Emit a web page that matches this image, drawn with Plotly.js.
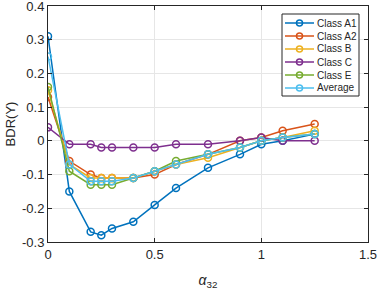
<!DOCTYPE html>
<html>
<head>
<meta charset="utf-8">
<script src="https://cdn.plot.ly/plotly-3.0.1.min.js"></script>
<style>html,body{margin:0;padding:0;background:#fff;}#chart{width:378px;height:291px;}</style>
</head>
<body>
<div id="chart"></div>
<script>
var alpha = [0, 0.1, 0.2, 0.25, 0.3, 0.4, 0.5, 0.6, 0.75, 0.9, 1.0, 1.1, 1.25];
var classA1 = [0.31, -0.15, -0.27, -0.28, -0.26, -0.24, -0.19, -0.14, -0.08, -0.04, -0.01, 0.0, 0.02];
var classA2 = [0.13, -0.06, -0.10, -0.11, -0.11, -0.11, -0.10, -0.07, -0.04, 0.0, 0.01, 0.03, 0.05];
var classB  = [0.15, -0.07, -0.11, -0.11, -0.11, -0.11, -0.09, -0.07, -0.05, -0.02, 0.0, 0.01, 0.03];
var classC  = [0.04, -0.01, -0.01, -0.02, -0.02, -0.02, -0.02, -0.01, -0.01, 0.0, 0.01, 0.0, 0.0];
var classE  = [0.16, -0.09, -0.13, -0.13, -0.13, -0.11, -0.09, -0.06, -0.04, -0.02, 0.0, 0.01, 0.02];
var average = [0.25, -0.07, -0.12, -0.12, -0.12, -0.11, -0.09, -0.07, -0.04, -0.02, 0.0, 0.01, 0.02];
var names = ["Class A1", "Class A2", "Class B", "Class C", "Class E", "Average"];
var series = [classA1, classA2, classB, classC, classE, average];
var colors = ["#0072BD", "#D95319", "#EDB120", "#7E2F8E", "#77AC30", "#4DBEEE"];
var xTicks = [0, 0.5, 1, 1.5];
var xTickText = ["0", "0.5", "1", "1.5"];
var yTicks = [-0.3, -0.2, -0.1, 0, 0.1, 0.2, 0.3, 0.4];
var yTickText = ["-0.3", "-0.2", "-0.1", "0", "0.1", "0.2", "0.3", "0.4"];

var FONT = "Liberation Sans, Arial, Helvetica, sans-serif";
var INK = "#262626";

var traces = series.map(function(s, i){
  return {
    x: alpha, y: s, name: names[i], type: "scatter", mode: "lines+markers",
    line: {color: colors[i], width: 1.5},
    marker: {symbol: "circle-open", size: 7, color: colors[i], line: {width: 1.5, color: colors[i]}}
  };
});

// Plot-area geometry in pixels (for the compact MATLAB-style legend)
var W = 378, H = 291, ML = 48, MR = 10, MT = 6, MB = 49;
var PW = W - ML - MR, PH = H - MT - MB;
function px(x){ return (x - ML) / PW; }
function py(y){ return (H - MB - y) / PH; }

var shapes = [];
var annotations = [];
shapes.push({type: "rect", xref: "paper", yref: "paper",
  x0: px(282), x1: px(359), y0: py(96), y1: py(14),
  line: {color: INK, width: 1}, fillcolor: "#fff", layer: "above"});
names.forEach(function(n, i){
  var rowY = 23 + 13 * i;
  shapes.push({type: "line", xref: "paper", yref: "paper",
    x0: px(285), x1: px(314), y0: py(rowY), y1: py(rowY),
    line: {color: colors[i], width: 1.5}, layer: "above"});
  shapes.push({type: "circle", xref: "paper", yref: "paper",
    xsizemode: "pixel", ysizemode: "pixel", xanchor: px(299.5), yanchor: py(rowY),
    x0: -3, x1: 3, y0: -3, y1: 3,
    line: {color: colors[i], width: 1.5}, fillcolor: "rgba(0,0,0,0)", layer: "above"});
  annotations.push({xref: "paper", yref: "paper", x: px(315), y: py(rowY),
    xanchor: "left", yanchor: "middle", showarrow: false, text: n,
    font: {family: FONT, size: 10, color: INK}});
});

var axisCommon = {
  showline: true, linecolor: INK, linewidth: 1, mirror: "ticks",
  ticks: "inside", ticklen: 4, tickcolor: INK,
  showgrid: true, gridcolor: "#e6e6e6", gridwidth: 1, zeroline: false,
  ticklabeloverflow: "allow",
  tickfont: {family: FONT, size: 13, color: INK}
};

var layout = {
  width: W, height: H,
  margin: {l: ML, r: MR, t: MT, b: MB},
  paper_bgcolor: "#fff", plot_bgcolor: "#fff",
  showlegend: false,
  xaxis: Object.assign({}, axisCommon, {
    range: [0, 1.5], tickvals: xTicks, ticktext: xTickText,
    title: {text: "<i>α</i><sub>32</sub>", font: {family: FONT, size: 14, color: INK}, standoff: 14}
  }),
  yaxis: Object.assign({}, axisCommon, {
    range: [-0.3001, 0.4001], tickvals: yTicks, ticktext: yTickText,
    title: {text: "BDR(Y)", font: {family: FONT, size: 13, color: INK}, standoff: 3}
  }),
  shapes: shapes,
  annotations: annotations
};

Plotly.newPlot("chart", traces, layout, {displayModeBar: false, staticPlot: true});
</script>
</body>
</html>
